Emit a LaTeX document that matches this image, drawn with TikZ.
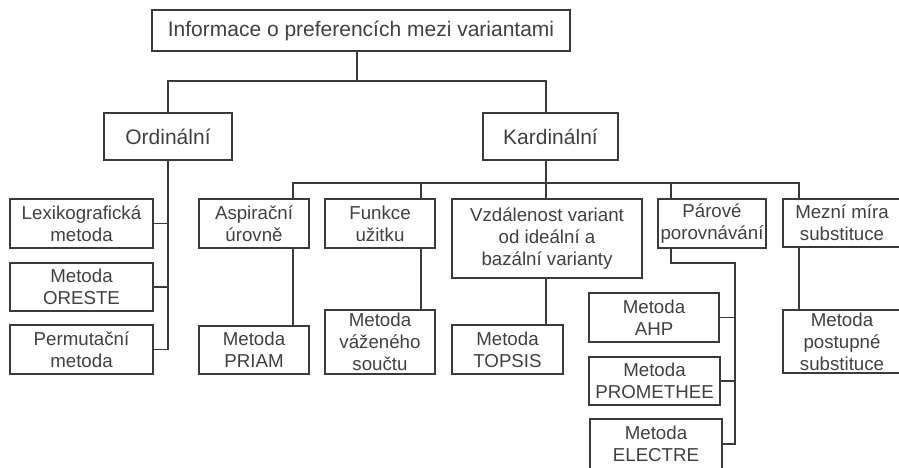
\documentclass[tikz,border=0pt]{standalone}
\usepackage{fontspec}
\setmainfont{Liberation Sans}
\definecolor{ink}{HTML}{3A3A3A}
\definecolor{txt}{HTML}{404040}
\begin{document}
\begin{tikzpicture}[x=1pt,y=-1pt,
  box/.style={draw=ink,line width=1.5pt,inner sep=0pt,align=center,text=txt,
    font=\fontsize{18.7}{22}\selectfont},
  bigbox/.style={box,font=\fontsize{21}{24}\selectfont},
  conn/.style={draw=ink,line width=1.5pt}]
\useasboundingbox (0,0) rectangle (899,467);
\newcommand{\bx}[7]{% name, x1,y1,x2,y2, style, text
  \node[#6,minimum width={(#4-#2)*1pt},minimum height={(#5-#3)*1pt}] (#1) at ({(#2+#4)/2},{(#3+#5)/2}) {#7};}
\bx{root}{152}{10}{570}{51}{bigbox}{Informace o preferencích mezi variantami}
\bx{ord}{104}{113}{232}{160}{bigbox}{Ordinální}
\bx{kard}{483}{113}{618}{160}{bigbox}{Kardinální}
\bx{lex}{10}{199}{153}{248}{box}{Lexikografická\\metoda}
\bx{ore}{10}{263}{153}{311}{box}{Metoda\\ORESTE}
\bx{per}{10}{325}{153}{374}{box}{Permutační\\metoda}
\bx{asp}{199}{199}{309}{248}{box}{Aspirační\\úrovně}
\bx{priam}{199}{326}{309}{374}{box}{Metoda\\PRIAM}
\bx{fun}{325}{199}{435}{248}{box}{Funkce\\užitku}
\bx{vaz}{325}{310}{435}{374}{box}{Metoda\\váženého\\součtu}
\bx{vzd}{452}{199}{642}{278}{box}{Vzdálenost variant\\od ideální a\\bazální varianty}
\bx{tops}{452}{325}{563}{374}{box}{Metoda\\TOPSIS}
\bx{par}{658}{199}{766}{248}{box}{Párové\\porovnávání}
\bx{ahp}{589}{293}{719}{342}{box}{Metoda\\AHP}
\bx{prom}{589}{357}{720}{405}{box}{Metoda\\PROMETHEE}
\bx{ele}{590}{419}{722}{469}{box}{Metoda\\ELECTRE}
\bx{mez}{783}{199}{901}{247}{box}{Mezní míra\\substituce}
\bx{post}{783}{310}{901}{373}{box}{Metoda\\postupné\\substituce}
% guide coordinates
\coordinate (xr) at (357,0);
\coordinate (yr) at (0,81);
\coordinate (xo) at (168,0);
\coordinate (xk) at (546,0);
\coordinate (yk) at (0,183);
\coordinate (xa) at (293,0);
\coordinate (xf) at (421,0);
\coordinate (xp) at (671,0);
\coordinate (xm) at (799,0);
\coordinate (yp) at (0,263);
\coordinate (xq) at (735,0);
% level 1
\draw[conn] (root.south -| xr) -- (yr -| xr);
\draw[conn] (ord.north -| xo) |- (yr -| xr) -| (kard.north -| xk);
% ordinal
\draw[conn] (ord.south -| xo) |- (per.east);
\draw[conn] (lex.east) -- (lex.east -| xo);
\draw[conn] (ore.east) -- (ore.east -| xo);
% cardinal bus
\draw[conn] (kard.south -| xk) -- (yk -| xk);
\draw[conn] (asp.north -| xa) |- (yk -| xm) -- (mez.north -| xm);
\draw[conn] (yk -| xf) -- (fun.north -| xf);
\draw[conn] (yk -| xk) -- (vzd.north -| xk);
\draw[conn] (yk -| xp) -- (par.north -| xp);
% children
\draw[conn] (asp.south -| xa) -- (priam.north -| xa);
\draw[conn] (fun.south -| xf) -- (vaz.north -| xf);
\draw[conn] (vzd.south -| xk) -- (tops.north -| xk);
\draw[conn] (mez.south -| xm) -- (post.north -| xm);
\draw[conn] (par.south -| xp) |- (yp -| xq) |- (ele.east);
\draw[conn] (ahp.east) -- (ahp.east -| xq);
\draw[conn] (prom.east) -- (prom.east -| xq);
\end{tikzpicture}
\end{document}
